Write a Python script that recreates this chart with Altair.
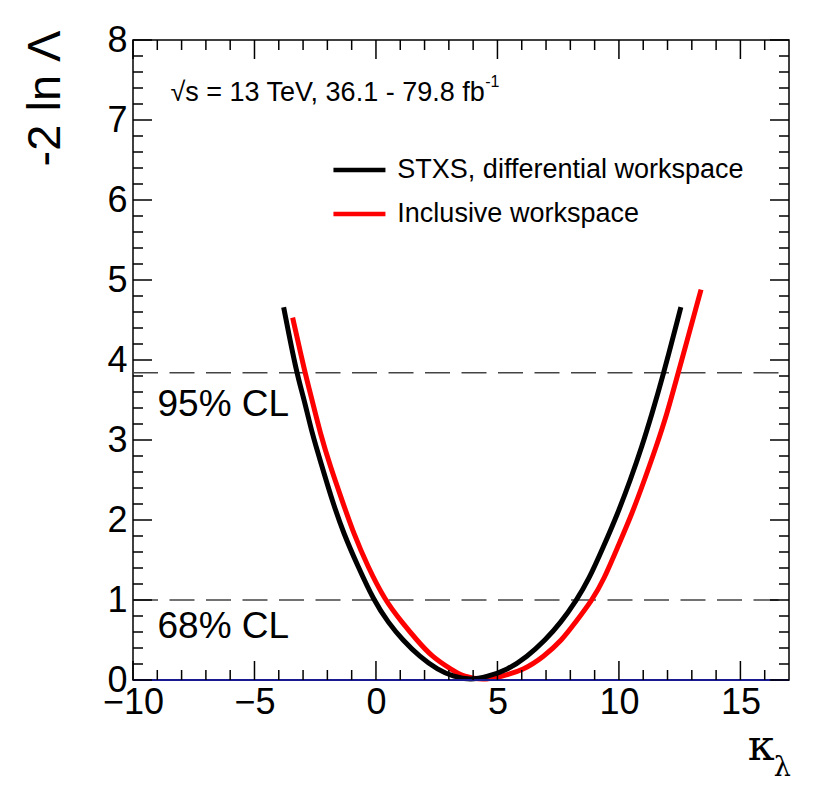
import altair as alt
import pandas as pd

# ---- data ----
black_k = [-3.80, -3.28, -2.95, -2.63, -2.22, -1.81, -1.33, -0.74, -0.10, 0.52, 1.10, 1.80, 2.55, 3.20, 3.90,
           4.57, 5.40, 6.22, 6.97, 7.59, 8.26, 8.75, 9.37, 9.95, 10.47, 10.95, 11.36, 11.77, 12.55]
black_y = [4.66, 3.85, 3.50, 3.08, 2.67, 2.25, 1.83, 1.42, 1.00, 0.71, 0.50, 0.29, 0.125, 0.04, 0.00,
           0.04, 0.125, 0.29, 0.50, 0.71, 1.00, 1.25, 1.67, 2.08, 2.50, 2.92, 3.33, 3.75, 4.66]
red_k = [-3.43, -2.93, -2.63, -2.29, -1.88, -1.40, -0.92, -0.34, 0.36, 1.10, 1.68, 2.30, 3.13, 3.61, 4.40,
         5.12, 6.08, 6.90, 7.66, 8.18, 8.90, 9.37, 9.96, 10.54, 11.05, 11.54, 11.98, 12.36, 13.38]
red_y = [4.53, 3.85, 3.50, 3.08, 2.67, 2.25, 1.83, 1.42, 1.00, 0.71, 0.50, 0.29, 0.125, 0.04, 0.00,
         0.04, 0.125, 0.29, 0.50, 0.71, 1.00, 1.25, 1.67, 2.08, 2.50, 2.92, 3.33, 3.75, 4.88]

cl_levels = [1.0, 3.84]
cl_labels = ["68% CL", "95% CL"]
cl_label_y = [0.66, 3.44]
cl_label_x = [-8.99, -8.99]

x_major = [-10, -5, 0, 5, 10, 15]
x_minor = [v for v in range(-9, 17) if v % 5 != 0]
y_major = [0, 1, 2, 3, 4, 5, 6, 7, 8]
y_minor = [round(i * 0.2, 1) for i in range(1, 40) if i % 5 != 0]

legend_labels = ["STXS, differential workspace", "Inclusive workspace"]
legend_colors = ["#000000", "#ff0000"]
legend_y = [6.375, 5.825]
legend_x0 = -1.75
legend_x1 = 0.39
legend_tx = 0.88

energy_text = "√s = 13 TeV, 36.1 - 79.8 fb"
energy_sup = "-1"

W, H = 656, 640
FONT = "Liberation Sans"

xs = alt.Scale(domain=[-10, 17], nice=False, zero=False)
ys = alt.Scale(domain=[0, 8], nice=False, zero=False)

xaxis = alt.Axis(values=x_major, ticks=False, domain=False, grid=False, labelFontSize=36,
                 labelFont=FONT, labelColor="black", labelPadding=5, labelFlush=False,
                 labelOverlap=False, title="κ", titleFont="DejaVu Serif", titleFontSize=43,
                 titleFontWeight="normal", titleColor="black", titleX=641, titleY=79,
                 titleAlign="right", titleBaseline="alphabetic")
yaxis = alt.Axis(values=y_major, ticks=False, domain=False, grid=False, labelFontSize=36,
                 labelFont=FONT, labelColor="black", labelPadding=6, labelFlush=False,
                 labelOverlap=False, title="-2 ln Λ", titleFont=FONT, titleFontSize=47,
                 titleFontWeight="normal", titleColor="black", titleAngle=270, titleX=-88,
                 titleY=-10, titleAlign="right", titleBaseline="middle")


def X(f):
    return alt.X(f, type="quantitative", scale=xs, axis=xaxis)


def Y(f):
    return alt.Y(f, type="quantitative", scale=ys, axis=yaxis)


red_line = alt.Chart(pd.DataFrame({"k": red_k, "y": red_y})).mark_line(
    color="#ff0000", strokeWidth=5, interpolate="basis").encode(x=X("k"), y=Y("y"))
black_line = alt.Chart(pd.DataFrame({"k": black_k, "y": black_y})).mark_line(
    color="#000000", strokeWidth=5, interpolate="basis").encode(x=X("k"), y=Y("y"))

cl_df = pd.DataFrame({"lvl": cl_levels, "lab": cl_labels, "lx": cl_label_x, "ly": cl_label_y})
cl_rules = alt.Chart(cl_df).mark_rule(color="#444444", strokeWidth=1.5, strokeDash=[25, 11.5]).encode(
    y=Y("lvl"), x=alt.value(0), x2=alt.value(W))
cl_text = alt.Chart(cl_df).mark_text(align="left", baseline="middle", fontSize=37, font=FONT,
                                     color="black").encode(x=X("lx"), y=Y("ly"), text="lab:N")

zero_line = alt.Chart(pd.DataFrame({"z": [0]})).mark_rule(color="#1a1a90", strokeWidth=2).encode(
    y=Y("z"), x=alt.value(0), x2=alt.value(W))


# inward tick marks on all four sides
def xticks(vals, length):
    d = pd.DataFrame({"v": vals})
    b = alt.Chart(d).mark_rule(color="black", strokeWidth=1.5).encode(
        x=X("v"), y=alt.value(H), y2=alt.value(H - length))
    t = alt.Chart(d).mark_rule(color="black", strokeWidth=1.5).encode(
        x=X("v"), y=alt.value(0), y2=alt.value(length))
    return [b, t]


def yticks(vals, length):
    d = pd.DataFrame({"v": vals})
    l = alt.Chart(d).mark_rule(color="black", strokeWidth=1.5).encode(
        y=Y("v"), x=alt.value(0), x2=alt.value(length))
    r = alt.Chart(d).mark_rule(color="black", strokeWidth=1.5).encode(
        y=Y("v"), x=alt.value(W), x2=alt.value(W - length))
    return [l, r]


leg_df = pd.DataFrame({"lab": legend_labels, "c": legend_colors, "ly": legend_y,
                       "x0": [legend_x0] * 2, "x1": [legend_x1] * 2, "tx": [legend_tx] * 2})
leg_lines = alt.Chart(leg_df).mark_rule(strokeWidth=4.5).encode(
    x=X("x0"), x2="x1:Q", y=Y("ly"), color=alt.Color("c:N", scale=None))
leg_text = alt.Chart(leg_df).mark_text(align="left", baseline="middle", fontSize=27, font=FONT,
                                       color="black").encode(x=X("tx"), y=Y("ly"), text="lab:N")

en_df = pd.DataFrame({"t": [energy_text], "x": [-8.46], "y": [7.34]})
en_text = alt.Chart(en_df).mark_text(align="left", baseline="middle", fontSize=27, font=FONT,
                                     color="black").encode(x=X("x"), y=Y("y"), text="t:N")
sup_df = pd.DataFrame({"t": [energy_sup], "x": [4.50], "y": [7.47]})
sup_text = alt.Chart(sup_df).mark_text(align="left", baseline="middle", fontSize=16, font=FONT,
                                       color="black").encode(x=X("x"), y=Y("y"), text="t:N")

lam_df = pd.DataFrame({"t": ["λ"], "x": [16.72], "y": [-1.20]})
lam_text = alt.Chart(lam_df).mark_text(align="center", baseline="alphabetic", fontSize=27,
                                       font="DejaVu Serif", color="black").encode(
    x=X("x"), y=Y("y"), text="t:N")

layers = [cl_rules, red_line, black_line, zero_line, cl_text, leg_lines, leg_text, en_text, sup_text, lam_text]
layers += xticks(x_major, 19) + xticks(x_minor, 10) + yticks(y_major, 19) + yticks(y_minor, 10)

chart = alt.layer(*layers).properties(
    width=W, height=H,
    autosize=alt.AutoSizeParams(type="none"),
    padding={"left": 125, "top": 32, "right": 30, "bottom": 110},
    background="white",
).configure_view(stroke="black", strokeWidth=1.5)

chart.save("out.html", embed_options={"renderer": "svg", "actions": False})
